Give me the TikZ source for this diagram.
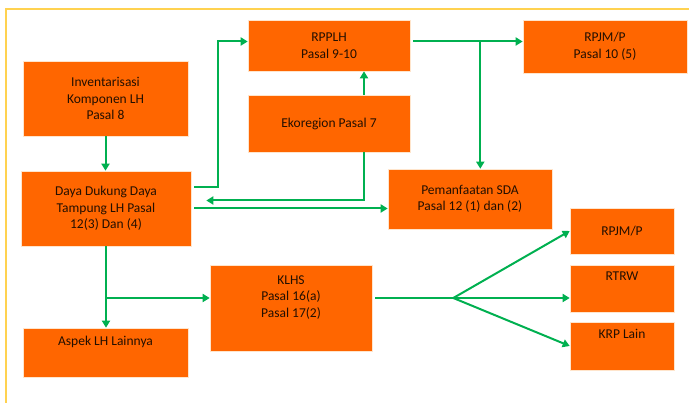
\documentclass[tikz,border=0pt]{standalone}
\usepackage{fontspec}
\setmainfont{Carlito}
\usetikzlibrary{arrows.meta, calc}
\definecolor{oranye}{RGB}{255,102,0}
\definecolor{hijau}{RGB}{0,176,80}
\definecolor{kuning}{RGB}{255,210,80}
\definecolor{teks}{RGB}{35,15,0}
\tikzset{
    blok/.style={draw=orange!20!white, line width=0.6pt, fill=oranye, text=teks, align=center, inner sep=2pt, font=\fontsize{13.5}{16.5}\selectfont},
    atas/.style={text depth=24pt},
    panah/.style={draw=hijau, line width=2pt, -{Triangle[length=7pt, width=8pt]}},
    garis/.style={draw=hijau, line width=2pt}
}
\begin{document}
\begin{tikzpicture}[x=1pt, y=-1pt]
        \useasboundingbox (0,0) rectangle (689,403);
        \draw[kuning, line width=1.5pt] (6,403) -- (6,9) -- (689,9);

        \node[blok, minimum width=165, minimum height=75] (inv) at (105.5,98.5) {Inventarisasi\\Komponen LH\\Pasal 8};
        \node[blok, minimum width=170, minimum height=75] (ddk) at (106,208.5) {Daya Dukung Daya\\Tampung LH Pasal\\12(3) Dan (4)};
        \node[blok, atas, minimum width=165, minimum height=49] (aspek) at (105.5,352.5) {Aspek LH Lainnya};
        \node[blok, minimum width=162, minimum height=51] (rpplh) at (329,45.5) {RPPLH\\Pasal 9-10};
        \node[blok, minimum width=162, minimum height=57] (eko) at (329,123.5) {Ekoregion Pasal 7};
        \node[blok, minimum width=164, minimum height=53] (rpjm) at (605,46.5) {RPJM/P\\Pasal 10 (5)};
        \node[blok, minimum width=164, minimum height=60] (sda) at (470,199) {Pemanfaatan SDA\\Pasal 12 (1) dan (2)};
        \node[blok, text depth=23pt, minimum width=162, minimum height=86] (klhs) at (291,308) {KLHS\\Pasal 16(a)\\Pasal 17(2)};
        \node[blok, minimum width=104, minimum height=46] (rpjmb) at (622,231) {RPJM/P};
        \node[blok, atas, minimum width=104, minimum height=47] (rtrw) at (622,288.5) {RTRW};
        \node[blok, atas, minimum width=104, minimum height=48] (krp) at (622,346) {KRP Lain};

        \coordinate (j1) at ($(rpplh.east)+(70,-4)$);
        \coordinate (j2) at ($(klhs.west)+(0,-10)$);
        \coordinate (j3) at ($(klhs.east)+(81,-10)$);

        \draw[panah] (inv.south) -- (inv.south |- ddk.north);
        \draw[panah, shorten <=3pt] ([yshift=21pt]ddk.east) -- ++(27,0) |- ([yshift=4pt]rpplh.west);
        \draw[panah] ([xshift=35pt]eko.north) -- ([xshift=35pt]rpplh.south);
        \draw[panah, shorten >=15pt] ([xshift=35pt]eko.south) |- ([yshift=8pt]ddk.east);
        \draw[panah, shorten <=3pt] (ddk.east) -- (ddk.east -| sda.west);
        \draw[panah, shorten <=3pt] ([yshift=4pt]rpplh.east) -- ([yshift=4pt]rpplh.east -| rpjm.west);
        \draw[panah] (j1) -- (j1 |- sda.north);
        \draw[panah] (ddk.south) -- (ddk.south |- aspek.north);
        \draw[panah] (j2 -| ddk.south) -- (j2);
        \draw[garis, shorten <=3pt] ($(klhs.east)+(0,-10)$) -- (j3);
        \draw[panah] (j3) -- (rpjmb.west);
        \draw[panah] (j3) -- (j3 -| rtrw.west);
        \draw[panah] (j3) -- (krp.west);
    \end{tikzpicture}
\end{document}
